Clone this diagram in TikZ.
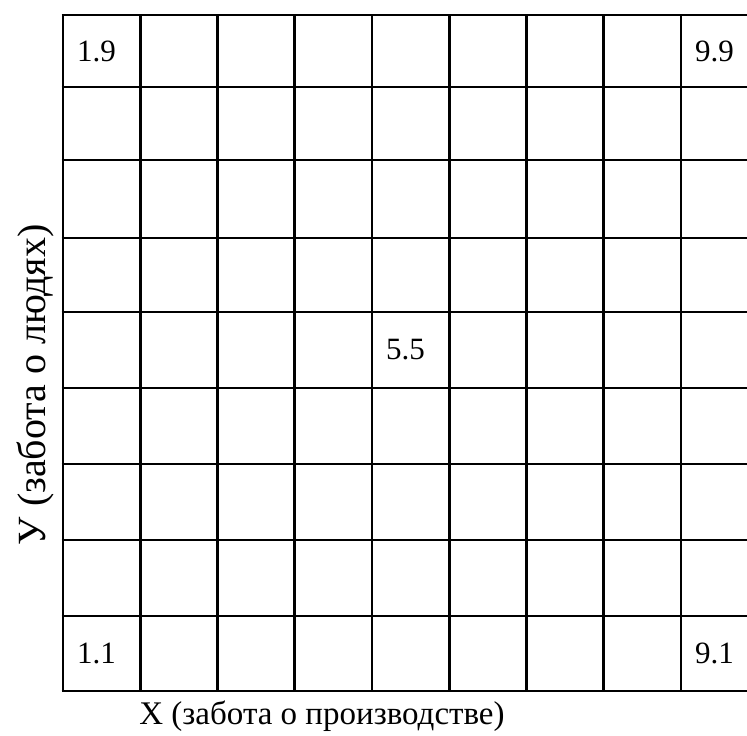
\documentclass[tikz,border=0pt]{standalone}
\usepackage{fontspec}
\setmainfont{Liberation Serif}
\begin{document}
\begin{tikzpicture}[x=1pt,y=-1pt,
  gridline/.style={line width=2.6pt},
  celltext/.style={anchor=west,inner sep=0pt,font=\fontsize{31}{36}\selectfont},
  axislabel/.style={inner sep=0pt,anchor=base,font=\fontsize{33}{38}\selectfont},
  ylabel/.style={inner sep=0pt,anchor=base,rotate=90,font=\fontsize{40}{46}\selectfont}]
\useasboundingbox (0,0) rectangle (747,736);
\clip (0,0) rectangle (747,736);
\foreach \x in {63,140.25,217.5,294.75,372,449.25,526.5,603.75,681,758.25}
  \draw[gridline] (\x,15) -- (\x,691);
\foreach \y in {15,87,160,238,312,388,464,540,616,691}
  \draw[gridline] (61.7,\y) -- (759.5,\y);
\node[celltext] (c19) at (77,51) {1.9};
\node[celltext] (c99) at (695,51) {9.9};
\node[celltext] (c55) at (386,350) {5.5};
\node[celltext] (c11) at (77,653.5) {1.1};
\node[celltext] (c91) at (695,653.5) {9.1};
\node[axislabel] (xl) at (322,724) {X (забота о производстве)};
\node[ylabel] (yl) at (45,385) {У (забота о людях)};
\end{tikzpicture}
\end{document}
